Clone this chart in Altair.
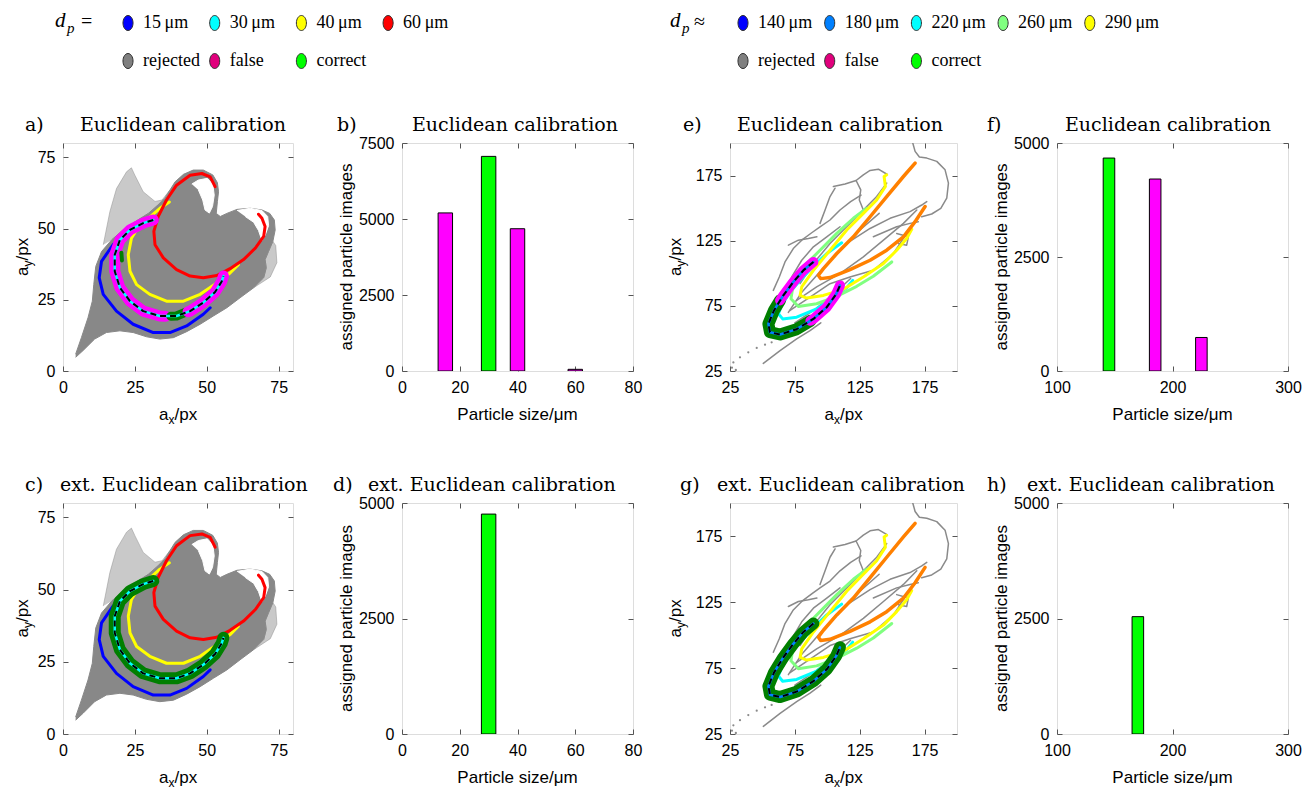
import altair as alt
import pandas as pd

SANS = "Liberation Sans"
TSERIF = "DejaVu Serif"
LSERIF = "Liberation Serif"
FRAME = "#6a6a6a"
TICK = "#555555"
GRAY = "#888888"
MAGENTA = "#ff00ff"
DKGREEN = "#007f00"
LIME = "#00ff00"
CYAN = "#00ffff"
ELLIPSE = "M0,-1A0.67,1,0,1,1,0,1A0.67,1,0,1,1,0,-1Z"

# ---------------- legend ----------------
LEG_L_LABELS = ["15\u2009μm", "30\u2009μm", "40\u2009μm", "60\u2009μm", "rejected", "false", "correct"]
LEG_L_COLORS = ["#0000ff", "#00ffff", "#ffff00", "#ff0000", "#808080", "#e0007c", "#00ff00"]
LEG_L_ROWS = [0, 0, 0, 0, 1, 1, 1]
LEG_L_COLS = [0, 1, 2, 3, 0, 1, 2]
LEG_R_LABELS = ["140\u2009μm", "180\u2009μm", "220\u2009μm", "260\u2009μm", "290\u2009μm", "rejected", "false", "correct"]
LEG_R_COLORS = ["#0000ff", "#0080ff", "#00ffff", "#80ff80", "#ffff00", "#808080", "#e0007c", "#00ff00"]
LEG_R_ROWS = [0, 0, 0, 0, 0, 1, 1, 1]
LEG_R_COLS = [0, 1, 2, 3, 4, 0, 1, 2]

# ---------------- panels a / c (a_x, a_y in px) ----------------
AC_CLOUD_X = [4.4, 7.0, 11.0, 15.1, 19.8, 24.4, 29.1, 33.7, 38.4, 43.0, 47.7, 52.3, 57.0, 61.6, 66.3, 69.8, 70.7, 70.3, 71.5, 73.0, 73.8, 73.5, 71.9, 69.2, 65.1, 60.5, 57.0, 54.7, 53.3, 53.7, 54.1, 53.7, 52.1, 48.8, 45.3, 41.9, 39.0, 37.2, 35.5, 33.1, 29.7, 25.6, 20.9, 16.9, 13.4, 11.4, 10.7, 10.2, 8.7, 6.4, 4.4]
AC_CLOUD_Y = [4.8, 7.2, 11.2, 13.5, 14.1, 13.5, 12.0, 11.2, 11.7, 13.8, 16.4, 19.3, 22.2, 25.7, 29.2, 32.7, 36.2, 39.1, 42.0, 45.5, 49.5, 53.0, 55.3, 56.5, 57.1, 56.7, 55.3, 54.2, 55.3, 59.4, 62.9, 66.1, 68.8, 70.5, 70.5, 69.0, 66.4, 63.5, 60.6, 58.3, 55.3, 52.7, 49.5, 46.0, 41.9, 36.7, 30.3, 24.5, 18.7, 11.7, 5.9]
AC_PLUME_X = [14.0, 16.3, 18.6, 22.1, 23.8, 25.0, 27.9, 32.0, 34.9, 37.2, 33.1, 29.7, 25.6, 20.9, 16.9]
AC_PLUME_Y = [44.3, 55.9, 64.0, 69.9, 71.3, 68.7, 62.9, 59.5, 60.1, 63.5, 58.3, 55.3, 52.7, 49.5, 46.0]
AC_EDGE_X = [66.3, 72.1, 74.4, 74.0, 73.0, 71.5, 70.3, 70.7, 69.8]
AC_EDGE_Y = [29.2, 33.0, 38.0, 44.0, 45.5, 42.0, 39.1, 36.2, 32.7]
AC_HOLE1_X = [44.8, 47.1, 50.2, 52.1, 52.6, 52.0, 50.9, 49.4, 48.6, 47.1]
AC_HOLE1_Y = [65.6, 67.0, 67.6, 65.5, 61.7, 57.7, 55.4, 56.5, 60.0, 63.5]
AC_HOLE2_X = [60.5, 65.1, 69.2, 71.2, 71.5, 70.3, 69.2, 68.0, 66.3, 63.4]
AC_HOLE2_Y = [56.3, 57.1, 56.3, 54.2, 51.0, 47.6, 45.8, 49.3, 52.2, 54.2]

AC_15_X = [29.7, 23.3, 17.4, 13.4, 12.6, 14.0, 18.6, 24.4, 31.4, 37.2, 43.0, 48.8, 51.2]
AC_15_Y = [51.5, 48.7, 44.3, 38.5, 32.7, 26.9, 21.0, 16.4, 13.5, 13.5, 15.8, 19.9, 22.2]
AC_30_X = [31.4, 27.9, 23.3, 19.8, 18.0, 18.0, 19.8, 23.3, 27.9, 33.7, 39.5, 44.2, 48.8, 52.9, 55.2, 55.8]
AC_30_Y = [53.0, 51.9, 49.5, 46.0, 40.8, 35.0, 29.2, 24.5, 21.0, 19.3, 19.3, 21.0, 24.0, 27.7, 31.4, 33.3]
AC_40_X = [37.0, 33.7, 30.8, 26.7, 23.8, 22.7, 23.3, 25.6, 30.2, 36.0, 41.9, 47.7, 53.5, 58.1, 61.0]
AC_40_Y = [59.3, 57.1, 54.5, 51.3, 46.6, 40.8, 35.0, 30.3, 26.9, 24.5, 24.5, 26.9, 30.9, 34.4, 37.3]
AC_60_X = [52.9, 51.2, 48.3, 44.2, 39.5, 36.0, 33.1, 31.6, 32.0, 34.9, 39.5, 44.2, 48.8, 53.5, 58.1, 62.8, 66.9, 69.8, 70.3, 69.2, 68.0]
AC_60_Y = [64.7, 68.1, 69.3, 68.7, 65.2, 60.0, 54.2, 49.0, 44.3, 39.7, 35.6, 33.3, 32.7, 33.5, 35.9, 39.1, 43.1, 47.2, 50.7, 53.6, 55.0]

A_FALSE1_X = [31.4, 27.9, 23.3, 19.8, 18.0, 18.0, 19.8, 23.3, 27.9, 33.7, 35.5]
A_FALSE1_Y = [53.0, 51.9, 49.5, 46.0, 40.8, 35.0, 29.2, 24.5, 21.0, 19.3, 19.2]
A_CORRECT_X = [37.5, 39.5, 42.5]
A_CORRECT_Y = [19.2, 19.3, 20.6]
A_CORRECT2_X = [20.3, 20.5]
A_CORRECT2_Y = [41.5, 38.8]
A_FALSE2_X = [43.5, 44.2, 48.8, 52.9, 55.2, 55.8]
A_FALSE2_Y = [20.8, 21.0, 24.0, 27.7, 31.4, 33.3]

# ---------------- panels e / g ----------------
EG_GRAY = [
    ([165.9, 167.7, 171.0, 176.7, 184.4, 190.8, 193.4, 192.1, 187.5, 180.5, 172.8],
     [200.0, 193.6, 189.2, 188.4, 185.9, 179.4, 169.2, 157.6, 149.9, 145.5, 143.4]),
    ([104.7, 113.7, 122.2, 125.8, 124.7, 127.8], [166.6, 168.6, 171.2, 164.0, 156.3, 148.6]),
    ([122.2, 127.8, 133.0, 139.4, 146.0], [171.2, 175.6, 178.9, 179.9, 176.0]),
    ([58.4, 63.0, 67.4, 73.8, 80.3, 88.0, 94.4, 102.1, 109.8, 118.0, 126.0],
     [86.9, 97.2, 108.7, 119.0, 125.4, 131.1, 135.7, 140.9, 148.6, 155.0, 160.0]),
    ([66.1, 72.6, 80.3, 89.3, 99.6, 109.8], [81.7, 97.2, 110.0, 120.3, 128.0, 135.7]),
    ([70.0, 77.7, 85.4, 92.0], [121.6, 125.4, 126.7, 128.0]),
    ([50.7, 63.6, 76.4, 86.7, 95.0], [30.8, 40.6, 49.6, 56.0, 62.0]),
    ([115.0, 133.0, 148.4, 163.8, 172.8, 176.7], [122.9, 134.4, 142.2, 147.3, 152.4, 155.0]),
    ([135.5, 153.5, 163.8, 170.2], [128.0, 135.7, 138.3, 139.6]),
    ([153.5, 162.5, 161.2, 154.8], [130.6, 128.0, 121.6, 122.9]),
    ([106.0, 102.1, 98.3, 94.4], [165.3, 158.9, 148.6, 138.3]),
    ([70.0, 80.0, 95.0, 110.0, 125.0, 140.0], [70.0, 85.0, 102.0, 118.0, 133.0, 146.0]),
    ([75.0, 90.0, 105.0, 118.0], [62.0, 72.0, 84.0, 96.0]),
    ([76.4, 91.8, 109.8, 127.8, 143.3, 158.7, 169.0], [79.2, 89.5, 99.7, 112.6, 125.4, 138.3, 148.6]),
    ([71.3, 86.7, 102.1, 117.5, 135.5, 151.0, 161.2], [71.5, 81.7, 92.0, 97.2, 102.3, 115.2, 130.6]),
    ([79.0, 89.3, 102.1, 115.0, 127.8, 138.1, 145.8], [92.0, 107.5, 122.9, 135.7, 148.6, 158.9, 169.2]),
]
EG_DOTS_X = [27.6, 32.7, 39.1, 45.6, 52.0, 57.1, 26.5, 29.5]
EG_DOTS_Y = [31.6, 35.5, 39.3, 42.7, 45.2, 47.0, 27.5, 25.8]

EG_290_X = [145.8, 143.8, 144.8, 138.1, 127.8, 115.0, 102.1, 89.3, 80.3, 79.0, 84.1, 97.0, 112.4, 127.8, 143.3, 153.5, 161.2, 165.1]
EG_290_Y = [175.6, 174.3, 166.6, 156.3, 146.0, 133.2, 117.7, 102.3, 89.5, 83.0, 81.0, 83.0, 87.7, 97.2, 107.5, 117.7, 126.7, 133.7]
EG_ORANGE_X = [167.7, 158.7, 145.8, 133.0, 120.1, 107.3, 97.0, 93.1, 94.9, 102.1, 117.5, 133.0, 145.8, 158.7, 167.7, 175.4]
EG_ORANGE_Y = [184.6, 174.3, 158.9, 143.4, 128.0, 115.2, 103.6, 98.5, 95.9, 96.7, 102.8, 110.0, 117.7, 128.0, 139.6, 151.2]
EG_260_X = [130.4, 120.1, 107.3, 94.4, 81.6, 73.8, 72.0, 77.7, 91.8, 107.3, 122.7, 135.5, 149.7]
EG_260_Y = [149.9, 142.2, 130.6, 117.7, 104.9, 92.0, 80.5, 74.5, 76.6, 82.3, 90.0, 97.7, 108.7]
EG_220_X = [111.1, 99.6, 89.3, 80.3, 71.3, 64.8, 62.3, 65.6, 76.4, 91.8, 104.7, 115.0, 119.6]
EG_220_Y = [123.4, 115.2, 105.4, 95.9, 85.6, 75.3, 68.9, 65.0, 66.3, 72.7, 81.2, 88.9, 94.6]
EG_180_X = [89.3, 81.6, 73.8, 66.1, 58.9, 54.6, 55.8, 63.6, 76.4, 89.3, 99.6, 106.7, 109.8]
EG_180_Y = [108.7, 102.3, 93.3, 83.0, 71.5, 61.2, 54.8, 53.0, 57.1, 65.0, 74.0, 83.8, 90.7]

E_FALSE1_X = [89.3, 81.6, 73.8, 66.1, 63.6]
E_FALSE1_Y = [108.7, 102.3, 93.3, 83.0, 79.2]
E_CORRECT_X = [63.6, 58.9, 54.6, 55.8, 63.6, 76.4, 87.0]
E_CORRECT_Y = [79.2, 71.5, 61.2, 54.8, 53.0, 57.1, 63.5]
E_FALSE2_X = [87.0, 89.3, 99.6, 106.7, 109.8]
E_FALSE2_Y = [63.5, 65.0, 74.0, 83.8, 90.7]

# ---------------- bar panels ----------------
B_SIZES = [15, 30, 40, 60]
B_COUNTS = [5200, 7060, 4680, 55]
B_CLASS = ["false", "correct", "false", "false"]
D_SIZES = [30]
D_COUNTS = [4760]
D_CLASS = ["correct"]
F_SIZES = [140, 180, 220]
F_COUNTS = [4670, 4210, 735]
F_CLASS = ["correct", "false", "false"]
H_SIZES = [165]
H_COUNTS = [2540]
H_CLASS = ["correct"]

AC_TICKS = [0, 25, 50, 75]
EG_TICKS = [25, 75, 125, 175]


# ---------------- helpers ----------------
def ldf(xs, ys):
    return pd.DataFrame({"x": xs, "y": ys, "i": list(range(len(xs)))})


def enc(sx, sy):
    return dict(x=alt.X("x:Q", scale=sx, axis=None),
                y=alt.Y("y:Q", scale=sy, axis=None),
                order=alt.Order("i:Q"))


def curve(xs, ys, sx, sy, color, width, dash=None, opacity=1.0):
    kw = dict(stroke=color, strokeWidth=width, strokeCap="round", strokeJoin="round",
              clip=True, opacity=opacity)
    if dash is not None:
        kw["strokeDash"] = dash
        kw["strokeCap"] = "butt"
    return alt.Chart(ldf(xs, ys)).mark_line(**kw).encode(**enc(sx, sy))


def polygon(xs, ys, sx, sy, color, opacity=1.0):
    return alt.Chart(ldf(xs, ys)).mark_line(
        fill=color, stroke=color, strokeWidth=1, fillOpacity=opacity,
        strokeOpacity=opacity, clip=True).encode(**enc(sx, sy))


def ax(orient, values, labels):
    return alt.Axis(orient=orient, values=values, labels=labels, title=None, grid=False,
                    domain=False, ticks=True, tickSize=5, tickColor=TICK, tickWidth=1,
                    offset=-5, labelFont=SANS, labelFontSize=16, labelColor="black",
                    labelPadding=8, labelFlush=False, labelOverlap=False, format="d")


def axis_layers(sx, sy, xvals, yvals):
    df = pd.DataFrame({"x": [xvals[0]], "y": [yvals[0]]})
    main = alt.Chart(df).mark_point(opacity=0).encode(
        x=alt.X("x:Q", scale=sx, axis=ax("bottom", xvals, True)),
        y=alt.Y("y:Q", scale=sy, axis=ax("left", yvals, True)))
    mirror = alt.Chart(df).mark_point(opacity=0).encode(
        x=alt.X("x:Q", scale=sx, axis=ax("top", xvals, False)),
        y=alt.Y("y:Q", scale=sy, axis=ax("right", yvals, False)))
    return [main, mirror]


def txt(text, x, y, size=17, font=SANS, align="center", baseline="middle", angle=None,
        style=None, color="black"):
    kw = dict(font=font, fontSize=size, align=align, baseline=baseline, color=color)
    if angle is not None:
        kw["angle"] = angle
    if style is not None:
        kw["fontStyle"] = style
    return alt.Chart(pd.DataFrame({"t": [text]})).mark_text(**kw).encode(
        text="t:N", x=alt.value(x), y=alt.value(y))


def head(letter, title, lx, tx):
    return [txt(letter, lx, -18, 19, TSERIF, "left"), txt(title, tx, -18, 19, TSERIF, "left")]


def x_sub_title(W, H):
    x0 = W / 2 - 19
    y = H + 44
    return [txt("a", x0, y, 17, align="left"), txt("x", x0 + 9.5, y + 5, 12, align="left"),
            txt("/px", x0 + 15.5, y, 17, align="left")]


def y_sub_title(H, xc):
    y0 = H / 2 + 19
    return [txt("a", xc, y0, 17, align="left", angle=270),
            txt("y", xc + 5, y0 - 9.5, 12, align="left", angle=270),
            txt("/px", xc, y0 - 15.5, 17, align="left", angle=270)]


def panel(W, H, layers):
    return alt.layer(*layers).resolve_axis(x="independent", y="independent").properties(
        width=W, height=H)


def spacer(W, H):
    return alt.Chart(pd.DataFrame({"x": [0]})).mark_point(opacity=0).encode(
        x=alt.X("x:Q", axis=None), y=alt.Y("x:Q", axis=None)
    ).properties(width=W, height=H, view=alt.ViewBackground(stroke="transparent"))


W_A, W_B, W_E, W_F = 230, 231, 227, 231
H1, H2 = 228, 231

SX_AC = alt.Scale(domain=[0, 80], nice=False, zero=False)
SY_AC = alt.Scale(domain=[0, 80], nice=False, zero=False)
SX_EG = alt.Scale(domain=[25, 200], nice=False, zero=False)
SY_EG = alt.Scale(domain=[25, 200], nice=False, zero=False)


def scatter_ac(H, band, letter, title, lx, tx):
    s = (SX_AC, SY_AC)
    layers = [
        polygon(AC_PLUME_X, AC_PLUME_Y, *s, GRAY, 0.45),
        polygon(AC_EDGE_X, AC_EDGE_Y, *s, GRAY, 0.45),
        polygon(AC_CLOUD_X, AC_CLOUD_Y, *s, GRAY),
        polygon(AC_HOLE1_X, AC_HOLE1_Y, *s, "white"),
        polygon(AC_HOLE2_X, AC_HOLE2_Y, *s, "white"),
        curve(AC_15_X, AC_15_Y, *s, "#0000ff", 3),
        curve(AC_40_X, AC_40_Y, *s, "#ffff00", 3),
        curve(AC_60_X, AC_60_Y, *s, "#ff0000", 3),
    ] + band + [
        curve(AC_30_X, AC_30_Y, *s, CYAN, 2.5),
        curve(AC_30_X, AC_30_Y, *s, "black", 2, dash=[6, 4]),
    ] + axis_layers(SX_AC, SY_AC, AC_TICKS, AC_TICKS) + head(letter, title, lx, tx) \
      + x_sub_title(W_A, H) + y_sub_title(H, -40)
    return panel(W_A, H, layers)


def scatter_eg(H, band, letter, title, lx, tx):
    s = (SX_EG, SY_EG)
    layers = [curve(gx, gy, *s, "#8a8a8a", 1.5) for gx, gy in EG_GRAY]
    layers.append(alt.Chart(pd.DataFrame({"x": EG_DOTS_X, "y": EG_DOTS_Y})).mark_circle(
        size=5, color="#8a8a8a", opacity=1, clip=True).encode(
        x=alt.X("x:Q", scale=SX_EG, axis=None), y=alt.Y("y:Q", scale=SY_EG, axis=None)))
    layers += [
        curve(EG_220_X, EG_220_Y, *s, "#00ffff", 3),
        curve(EG_260_X, EG_260_Y, *s, "#80ff80", 3),
        curve(EG_290_X, EG_290_Y, *s, "#ffff00", 3),
        curve(EG_ORANGE_X, EG_ORANGE_Y, *s, "#ff8000", 3.5),
    ] + band + [
        curve(EG_180_X, EG_180_Y, *s, "#0080ff", 2.5),
        curve(EG_180_X, EG_180_Y, *s, "black", 2, dash=[6, 4]),
    ] + axis_layers(SX_EG, SY_EG, EG_TICKS, EG_TICKS) + head(letter, title, lx, tx) \
      + x_sub_title(W_E, H) + y_sub_title(H, -54)
    return panel(W_E, H, layers)


def bar_panel(W, H, sizes, counts, classes, lo, hi, xdom, ydom, xvals, yvals, letter, title, lx, tx):
    sx = alt.Scale(domain=xdom, nice=False, zero=False)
    sy = alt.Scale(domain=ydom, nice=False, zero=False)
    df = pd.DataFrame({"size": sizes, "count": counts, "cls": classes})
    bars = alt.Chart(df).transform_calculate(
        x0=f"datum.size - {lo}", x1=f"datum.size + {hi}"
    ).mark_rect(stroke="black", strokeWidth=1, clip=True).encode(
        x=alt.X("x0:Q", scale=sx, axis=None), x2="x1:Q",
        y=alt.Y("count:Q", scale=sy, axis=None), y2=alt.Y2(datum=0),
        fill=alt.Fill("cls:N", scale=alt.Scale(domain=["false", "correct"], range=[MAGENTA, LIME]),
                      legend=None))
    layers = [bars] + axis_layers(sx, sy, xvals, yvals) + head(letter, title, lx, tx) + [
        txt("Particle size/μm", W / 2, H + 44, 17),
        txt("assigned particle images", -55, H / 2, 17, angle=270),
    ]
    return panel(W, H, layers)


s_ac = (SX_AC, SY_AC)
s_eg = (SX_EG, SY_EG)

pa = scatter_ac(H1, [
    curve(A_FALSE1_X, A_FALSE1_Y, *s_ac, MAGENTA, 11),
    curve(A_CORRECT_X, A_CORRECT_Y, *s_ac, DKGREEN, 9),
    curve(A_CORRECT2_X, A_CORRECT2_Y, *s_ac, DKGREEN, 4),
    curve(A_FALSE2_X, A_FALSE2_Y, *s_ac, MAGENTA, 11),
], "a)", "Euclidean calibration", -38, 17)
pc = scatter_ac(H2, [
    curve(AC_30_X, AC_30_Y, *s_ac, DKGREEN, 12),
], "c)", "ext. Euclidean calibration", -38, -3)

pe = scatter_eg(H1, [
    curve(E_CORRECT_X, E_CORRECT_Y, *s_eg, DKGREEN, 12),
    curve(E_FALSE1_X, E_FALSE1_Y, *s_eg, MAGENTA, 10),
    curve(E_FALSE2_X, E_FALSE2_Y, *s_eg, MAGENTA, 10),
], "e)", "Euclidean calibration", -47, 7)
pg = scatter_eg(H2, [
    curve(EG_180_X, EG_180_Y, *s_eg, DKGREEN, 12),
], "g)", "ext. Euclidean calibration", -50, -13)

pb = bar_panel(W_B, H1, B_SIZES, B_COUNTS, B_CLASS, 2.5, 2.5, [0, 80], [0, 7500],
               [0, 20, 40, 60, 80], [0, 2500, 5000, 7500], "b)", "Euclidean calibration", -65, 10)
pd_ = bar_panel(W_B, H2, D_SIZES, D_COUNTS, D_CLASS, 2.5, 2.5, [0, 80], [0, 5000],
                [0, 20, 40, 60, 80], [0, 2500, 5000], "d)", "ext. Euclidean calibration", -69, -34)
pf = bar_panel(W_F, H1, F_SIZES, F_COUNTS, F_CLASS, 0, 10, [100, 300], [0, 5000],
               [100, 200, 300], [0, 2500, 5000], "f)", "Euclidean calibration", -70, 8)
ph = bar_panel(W_F, H2, H_SIZES, H_COUNTS, H_CLASS, 0, 10, [100, 300], [0, 5000],
               [100, 200, 300], [0, 2500, 5000], "h)", "ext. Euclidean calibration", -70, -30)

# ---------------- legend chart ----------------
LW, LH = 1230, 120
leg_df = pd.DataFrame({
    "label": LEG_L_LABELS + LEG_R_LABELS,
    "color": LEG_L_COLORS + LEG_R_COLORS,
    "row": LEG_L_ROWS + LEG_R_ROWS,
    "col": LEG_L_COLS + LEG_R_COLS,
    "side": [0] * len(LEG_L_LABELS) + [1] * len(LEG_R_LABELS),
})
leg_base = alt.Chart(leg_df).transform_calculate(
    px="(datum.side == 0 ? 65 : 680) + datum.col * 86.7",
    py="22 + datum.row * 38")
lx = alt.X("px:Q", scale=alt.Scale(domain=[0, LW], nice=False, zero=False), axis=None)
ly = alt.Y("py:Q", scale=alt.Scale(domain=[LH, 0], nice=False, zero=False), axis=None)
leg_dots = leg_base.mark_point(shape=ELLIPSE, filled=True, size=225, stroke="#303030",
                               strokeWidth=1, opacity=1).encode(
    x=lx, y=ly, fill=alt.Fill("color:N", scale=None))
leg_text = leg_base.mark_text(align="left", baseline="middle", font=LSERIF, fontSize=18,
                              dx=15, color="black").encode(x=lx, y=ly, text="label:N")
dp = [
    txt("d", -8, 20, 21, LSERIF, "left", style="italic"),
    txt("p", 4, 27, 15, LSERIF, "left", style="italic"),
    txt("=", 18, 21, 20, LSERIF, "left"),
    txt("d", 607, 20, 21, LSERIF, "left", style="italic"),
    txt("p", 619, 27, 15, LSERIF, "left", style="italic"),
    txt("≈", 631, 21, 20, LSERIF, "left"),
]
legend = alt.layer(leg_dots, leg_text, *dp).properties(
    width=LW, height=LH, view=alt.ViewBackground(stroke="transparent"))

grid = alt.concat(
    pa, spacer(109, H1), pb, spacer(97, H1), pe, spacer(100, H1), pf,
    pc, spacer(109, H2), pd_, spacer(97, H2), pg, spacer(100, H2), ph,
    columns=7, spacing={"row": 132, "column": 0}, bounds="flush")

chart = alt.vconcat(legend, grid, spacing=22, bounds="flush").properties(
    padding={"left": 13, "top": 0, "right": 5, "bottom": 0}
).configure_view(stroke=FRAME, strokeWidth=1).configure(background="white")

chart.save("out.html", embed_options={"renderer": "svg", "actions": False})
